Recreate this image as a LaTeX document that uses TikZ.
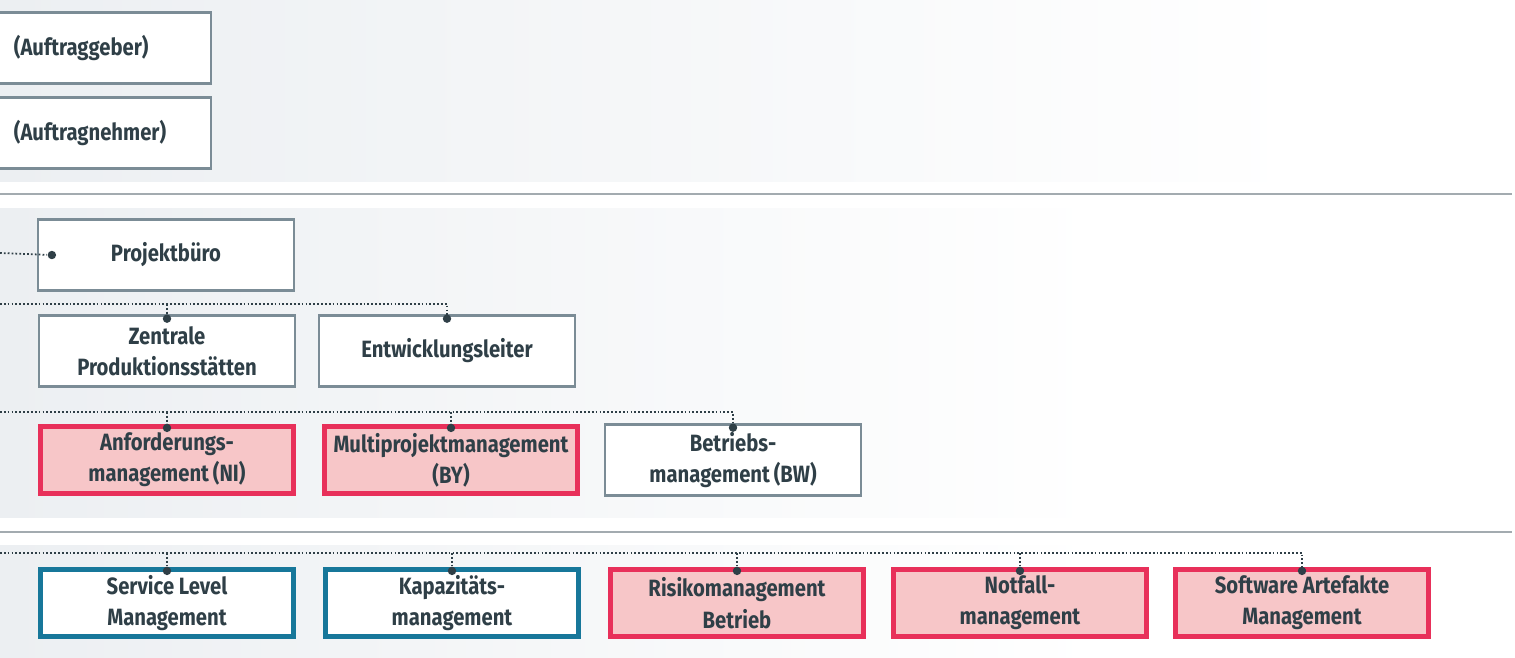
\documentclass[tikz,border=0pt]{standalone}
\usepackage{fontspec}
\setmainfont{Fira Sans}[FakeStretch=0.86]
\definecolor{ink}{HTML}{2F3F47}
\definecolor{frame}{HTML}{7B8C96}
\definecolor{redline}{HTML}{E8305A}
\definecolor{redfill}{HTML}{F7C6C8}
\definecolor{blueline}{HTML}{17779A}
\definecolor{band}{HTML}{ECEFF2}
\definecolor{rule}{HTML}{A3ABB0}

\begin{document}
\begin{tikzpicture}[x=0.01cm,y=-0.01cm,
  box/.style={draw=frame,line width=0.6pt,fill=white,minimum width=2.56cm,minimum height=0.71cm,align=center,
    inner sep=0pt,text=ink,font=\fontsize{6.7}{8.9}\selectfont\bfseries},
  redbox/.style={box,draw=redline,fill=redfill,line width=1.6pt,minimum width=2.53cm,minimum height=0.67cm},
  bluebox/.style={box,draw=blueline,line width=1.6pt,minimum width=2.53cm,minimum height=0.67cm},
  bus/.style={draw=ink,line width=0.5pt,dash pattern=on 0.5pt off 0.6pt},
  dot/.style={circle,fill=ink,inner sep=0pt,minimum size=2.4pt}
]
\useasboundingbox (0,0) rectangle (1515,657);
% bands and rules
\shade[left color=band,right color=white] (0,0) rectangle (1300,181);
\shade[left color=band,right color=white] (0,208) rectangle (1100,517);
\shade[left color=band,right color=white] (0,545) rectangle (1100,657);
\draw[rule,line width=0.5pt] (0,194) -- (1512,194);
\draw[rule,line width=0.5pt] (0,532) -- (1512,532);

% top
\node[box,minimum width=2.16cm,text width=1.78cm,align=left] (geber) at (103,48) {(Auftraggeber)};
\node[box,minimum width=2.16cm,text width=1.78cm,align=left] (nehmer) at (103,133) {(Auftragnehmer)};

% project office and leads
\node[box] (buero) at (166,255) {Projektbüro};
\node[box] (zentral) at (167,351) {Zentrale\\Produktionsstätten};
\node[box] (entw) at (447,351) {Entwicklungsleiter};

\node[redbox] (anf) at (167,460) {Anforderungs-\\management\,(NI)};
\node[redbox] (multi) at (451,460) {Multiprojektmanagement\\(BY)};
\node[box] (betr) at (733,460) {Betriebs-\\management\,(BW)};

\node[bluebox] (slm) at (167,603) {Service Level\\Management};
\node[bluebox] (kap) at (452,603) {Kapazitäts-\\management};
\node[redbox] (risk) at (737,603) {Risikomanagement\\Betrieb};
\node[redbox] (notf) at (1020,603) {Notfall-\\management};
\node[redbox] (soft) at (1302,603) {Software Artefakte\\Management};

% connectors
\coordinate (b1) at (0,253);
\coordinate (b2) at (0,304);
\coordinate (b3) at (0,412);
\coordinate (b4) at (0,553);

\node[dot] (d0) at ([xshift=0.15cm]buero.west) {};
\draw[bus] (b1) -- (d0);

\draw[bus] (b2) -| ([yshift=-1.2pt]entw.north);
\draw[bus] (b2 -| zentral) -- ([yshift=-1.2pt]zentral.north);

\draw[bus] (b3) -| ([yshift=-1.2pt]betr.north);
\draw[bus] (b3 -| anf) -- ([yshift=-1.2pt]anf.north);
\draw[bus] (b3 -| multi) -- ([yshift=-1.2pt]multi.north);

\draw[bus] (b4) -| ([yshift=-1.2pt]soft.north);
\foreach \n in {slm,kap,risk,notf}
  \draw[bus] (b4 -| \n) -- ([yshift=-1.2pt]\n.north);

\foreach \n in {zentral,entw,anf,multi,betr,slm,kap,risk,notf,soft}
  \node[dot] at ([yshift=-1.2pt]\n.north) {};
\end{tikzpicture}
\end{document}
